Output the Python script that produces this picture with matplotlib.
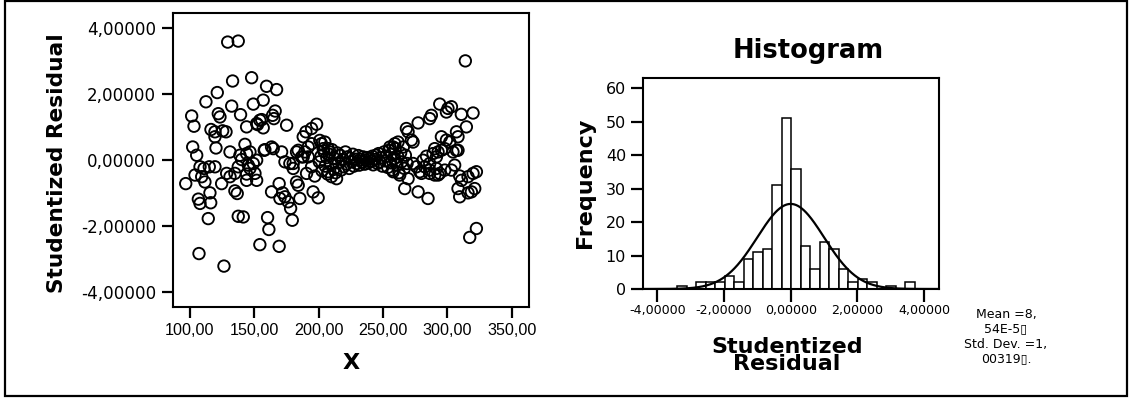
import matplotlib
matplotlib.use("Agg")
import matplotlib.pyplot as plt
from matplotlib.ticker import FuncFormatter, FixedLocator
from matplotlib.patches import Rectangle
import numpy as np

# ---- scatter data: predictor X against studentized residual ----
x_values = [
    129.3, 137.5, 147.9, 133.1, 159.5, 167.3, 121.2, 112.4, 156.9, 149.2,
    132.4, 101.3, 122.0, 123.3, 139.3, 166.2, 164.2, 165.2, 155.7, 151.8,
    156.9, 175.1, 103.1, 144.0, 116.3, 119.4, 125.4, 128.0, 119.4, 198.4,
    194.5, 190.1, 188.0, 102.1, 120.2, 142.7, 146.6, 131.1, 105.2, 157.7,
    163.4, 171.2, 138.8, 151.8, 149.2, 173.8, 96.7, 103.9, 107.8, 110.9,
    115.0, 119.4, 109.1, 111.6, 115.5, 106.5, 107.8, 116.1, 114.2, 107.0,
    126.4, 124.6, 128.5, 131.1, 134.9, 134.9, 136.7, 137.5, 141.4, 144.0,
    145.3, 150.5, 151.8, 144.0, 154.3, 169.3, 160.3, 161.3, 163.4, 169.3,
    172.0, 173.8, 169.9, 176.3, 178.2, 179.5, 185.4, 182.8, 184.1, 195.7,
    199.6,
    180.2, 182.8, 186.7, 189.3, 191.9, 194.5, 200.9, 204.8, 208.7, 180.2,
    190.6, 194.5, 197.0, 207.4, 210.0, 213.9, 164.7, 177.6, 184.1, 188.0,
    191.9, 202.2, 203.5, 207.4, 154.3, 152.5, 158.2, 137.5, 140.1, 146.6,
    144.0,
    200.5, 201.8, 202.6, 203.9, 205.1, 206.3, 207.0, 208.2, 209.5, 210.3,
    211.6, 212.4, 213.2, 214.5, 215.3, 216.6, 217.4, 218.7, 219.5, 220.8,
    221.6, 222.4, 223.7, 224.5, 225.8, 226.6, 227.4, 228.7, 229.5, 230.8,
    231.6, 232.4, 233.7, 234.5, 235.8, 236.6, 237.4, 238.7, 239.5, 240.8,
    241.6, 242.4, 243.7, 244.5, 245.8, 246.6, 247.4, 248.7, 249.5, 250.8,
    251.6, 252.4, 253.7, 254.5, 255.8, 256.6, 257.4, 258.7, 259.5, 260.8,
    261.6, 262.4, 263.7, 264.5, 265.8, 266.6, 267.4, 268.7,
    314.0, 294.1, 300.5, 303.2, 299.3, 310.9, 320.0, 287.6, 286.3, 277.3,
    314.8, 268.2, 269.5, 272.1, 273.4, 295.4, 307.1, 301.9, 308.3, 304.4,
    290.2, 292.8, 295.4, 288.9, 291.5, 259.2, 257.9, 261.7, 255.3, 283.8,
    281.2, 282.5, 286.3, 290.2, 292.8, 305.7, 303.2, 309.6, 311.0, 316.1,
    320.0, 322.6, 308.3, 316.1, 318.7, 321.3, 317.4, 322.6, 266.9, 277.3,
    285.0, 269.5, 263.0, 257.9, 273.4, 276.0, 278.6, 279.9, 299.3, 308.3,
    298.0, 307.0, 286.3, 291.5, 294.1, 286.3, 298.0, 309.6,
]
residuals = [
    3.58, 3.61, 2.50, 2.40, 2.24, 2.14, 2.05, 1.77, 1.82, 1.70,
    1.64, 1.34, 1.41, 1.31, 1.38, 1.49, 1.36, 1.26, 1.23, 1.11,
    0.98, 1.06, 1.03, 1.01, 0.93, 0.86, 0.89, 0.86, 0.71, 1.09,
    0.96, 0.86, 0.71, 0.40, 0.37, 0.48, 0.25, 0.25, 0.15, 0.30,
    0.40, 0.25, 0.15, 0.00, -0.10, -0.05, -0.71, -0.45, -0.20, -0.25,
    -0.20, -0.20, -0.50, -0.66, -0.99, -1.18, -1.31, -1.29, -1.77, -2.83,
    -3.21, -0.71, -0.40, -0.50, -0.40, -0.93, -1.01, -1.70, -1.72, -0.61,
    -0.15, -0.40, -0.61, 0.20, -2.56, -2.61, -1.74, -2.10, -0.96, -0.71,
    -0.99, -1.11, -1.16, -1.26, -1.46, -1.82, -1.16, -0.66, -0.76, -0.96,
    -1.14,
    -0.10, 0.25, 0.10, 0.25, 0.10, 0.50, 0.60, 0.55, 0.25, -0.25,
    -0.40, -0.20, -0.48, -0.35, -0.50, -0.56, 0.35, -0.10, 0.30, 0.10,
    0.40, 0.50, 0.35, 0.35, 1.21, 1.08, 0.32, -0.20, 0.02, -0.25,
    -0.42,
    -0.05, 0.12, -0.32, 0.28, -0.18, 0.08, -0.42, 0.18, -0.12, 0.32,
    -0.28, 0.05, -0.38, 0.22, -0.08, 0.15, -0.30, 0.02, -0.20, 0.25,
    -0.12, 0.10, -0.25, 0.06, -0.05, 0.18, -0.18, 0.03, -0.10, 0.14,
    -0.15, 0.02, -0.06, 0.10, -0.12, 0.00, 0.08, -0.08, 0.05, -0.03,
    0.12, -0.14, 0.02, 0.15, -0.10, 0.20, -0.05, 0.08, -0.18, 0.25,
    -0.02, 0.12, -0.22, 0.30, -0.08, 0.18, -0.30, 0.05, 0.35, -0.15,
    0.10, -0.38, 0.22, -0.05, 0.40, -0.25, 0.15, -0.10,
    3.01, 1.70, 1.57, 1.62, 1.46, 1.39, 1.43, 1.36, 1.26, 1.13,
    1.01, 0.96, 0.86, 0.61, 0.55, 0.71, 0.86, 0.55, 0.30, 0.25,
    0.35, 0.25, 0.30, 0.20, 0.10, 0.50, 0.40, 0.55, 0.40, 0.12,
    0.00, -0.20, -0.30, -0.45, -0.45, -0.15, -0.30, -0.48, -0.61, -0.50,
    -0.40, -0.35, -0.86, -0.99, -0.96, -0.86, -2.34, -2.07, -0.86, -0.96,
    -1.16, -0.56, -0.45, -0.35, -0.10, -0.20, -0.35, -0.40, 0.61, 0.71,
    0.35, 0.30, -0.10, -0.25, -0.40, -0.40, -0.30, -1.11,
]

# ---- histogram of the residuals ----
hist_start = -3.41
bin_width = 0.2856
bin_counts = [1, 0, 2, 2, 2, 4, 2, 9, 11, 12, 31, 51, 36,
              13, 6, 14, 12, 6, 2, 3, 2, 0, 1, 0, 2]
res_mean = 8.54e-5
res_std = 1.00319
n_cases = 224

scatter_xticks = [100, 150, 200, 250, 300, 350]
scatter_yticks = [-4, -2, 0, 2, 4]
hist_xticks = [-4, -2, 0, 2, 4]
hist_yticks = [0, 10, 20, 30, 40, 50, 60]


def comma_fmt(decimals):
    return FuncFormatter(lambda v, p: f"{v:.{decimals}f}".replace(".", ","))


plt.rcParams["font.family"] = ["DejaVu Sans"]

fig = plt.figure(figsize=(11.38, 4.01), dpi=100)
fig.patch.set_facecolor("white")

# outer frame around the whole output
fig.add_artist(Rectangle((0.0044, 0.0125), 0.9859, 0.985, transform=fig.transFigure,
                         fill=False, edgecolor="black", linewidth=1.6))

# ---------------- scatter plot ----------------
ax1 = fig.add_axes([0.1518, 0.2352, 0.3133, 0.7331])
ax1.scatter(x_values, residuals, s=68, facecolors="none", edgecolors="black",
            linewidths=1.35, zorder=3)
ax1.set_xlim(86.6, 363.7)
ax1.set_ylim(-4.44, 4.47)
ax1.xaxis.set_major_locator(FixedLocator(scatter_xticks))
ax1.yaxis.set_major_locator(FixedLocator(scatter_yticks))
ax1.xaxis.set_major_formatter(comma_fmt(2))
ax1.yaxis.set_major_formatter(comma_fmt(5))
for sp in ax1.spines.values():
    sp.set_linewidth(1.5)
ax1.tick_params(axis="both", direction="out", length=8, width=1.6)
ax1.tick_params(axis="y", labelsize=12.1, pad=4)
ax1.tick_params(axis="x", pad=4)
for lbl in ax1.get_xticklabels():
    lbl.set_fontfamily("Liberation Sans")
    lbl.set_fontsize(11.6)

fig.text(0.050, 0.593, "Studentized Residual", rotation=90, ha="center", va="center",
         fontsize=15.6, fontweight="bold")
fig.text(0.3089, 0.0948, "X", ha="center", va="center", fontsize=16, fontweight="bold")

# ---------------- histogram ----------------
ax2 = fig.add_axes([0.5648, 0.2793, 0.2603, 0.5254])
left_edges = [hist_start + i * bin_width for i in range(len(bin_counts))]
ax2.bar(left_edges, bin_counts, width=bin_width, align="edge", facecolor="white",
        edgecolor="black", linewidth=1.1, zorder=2)
curve_x = np.linspace(-4.44, 4.45, 500)
curve_y = n_cases * bin_width / (res_std * np.sqrt(2 * np.pi)) * \
    np.exp(-0.5 * ((curve_x - res_mean) / res_std) ** 2)
ax2.plot(curve_x, curve_y, color="black", linewidth=1.6, zorder=3)
ax2.set_xlim(-4.44, 4.45)
ax2.set_ylim(0, 63)
ax2.xaxis.set_major_locator(FixedLocator(hist_xticks))
ax2.yaxis.set_major_locator(FixedLocator(hist_yticks))
ax2.xaxis.set_major_formatter(comma_fmt(5))
ax2.yaxis.set_major_formatter(FuncFormatter(lambda v, p: f"{int(v)}"))
for sp in ax2.spines.values():
    sp.set_linewidth(1.5)
ax2.tick_params(axis="both", direction="out", length=9, width=1.6)
ax2.tick_params(axis="x", labelsize=9.1, pad=2)
ax2.tick_params(axis="y", labelsize=11.5, pad=3)

fig.text(0.710, 0.8546, "Histogram", ha="center", va="baseline",
         fontsize=18.5, fontweight="bold")
fig.text(0.514, 0.5436, "Frequency", rotation=90, ha="center", va="center",
         fontsize=16, fontweight="bold")
fig.text(0.6916, 1 - 370 / 401, "Studentized\nResidual", ha="center", va="baseline",
         fontsize=16, fontweight="bold", linespacing=0.83, multialignment="center")

fig.text(0.884, 1 - 362.7 / 401, "Mean =8,\n54E-5\u25af\nStd. Dev. =1,\n00319\u25af.",
         ha="center", va="baseline", fontsize=9, linespacing=1.2,
         multialignment="center")

fig.savefig("out.png", dpi=100, facecolor="white")
